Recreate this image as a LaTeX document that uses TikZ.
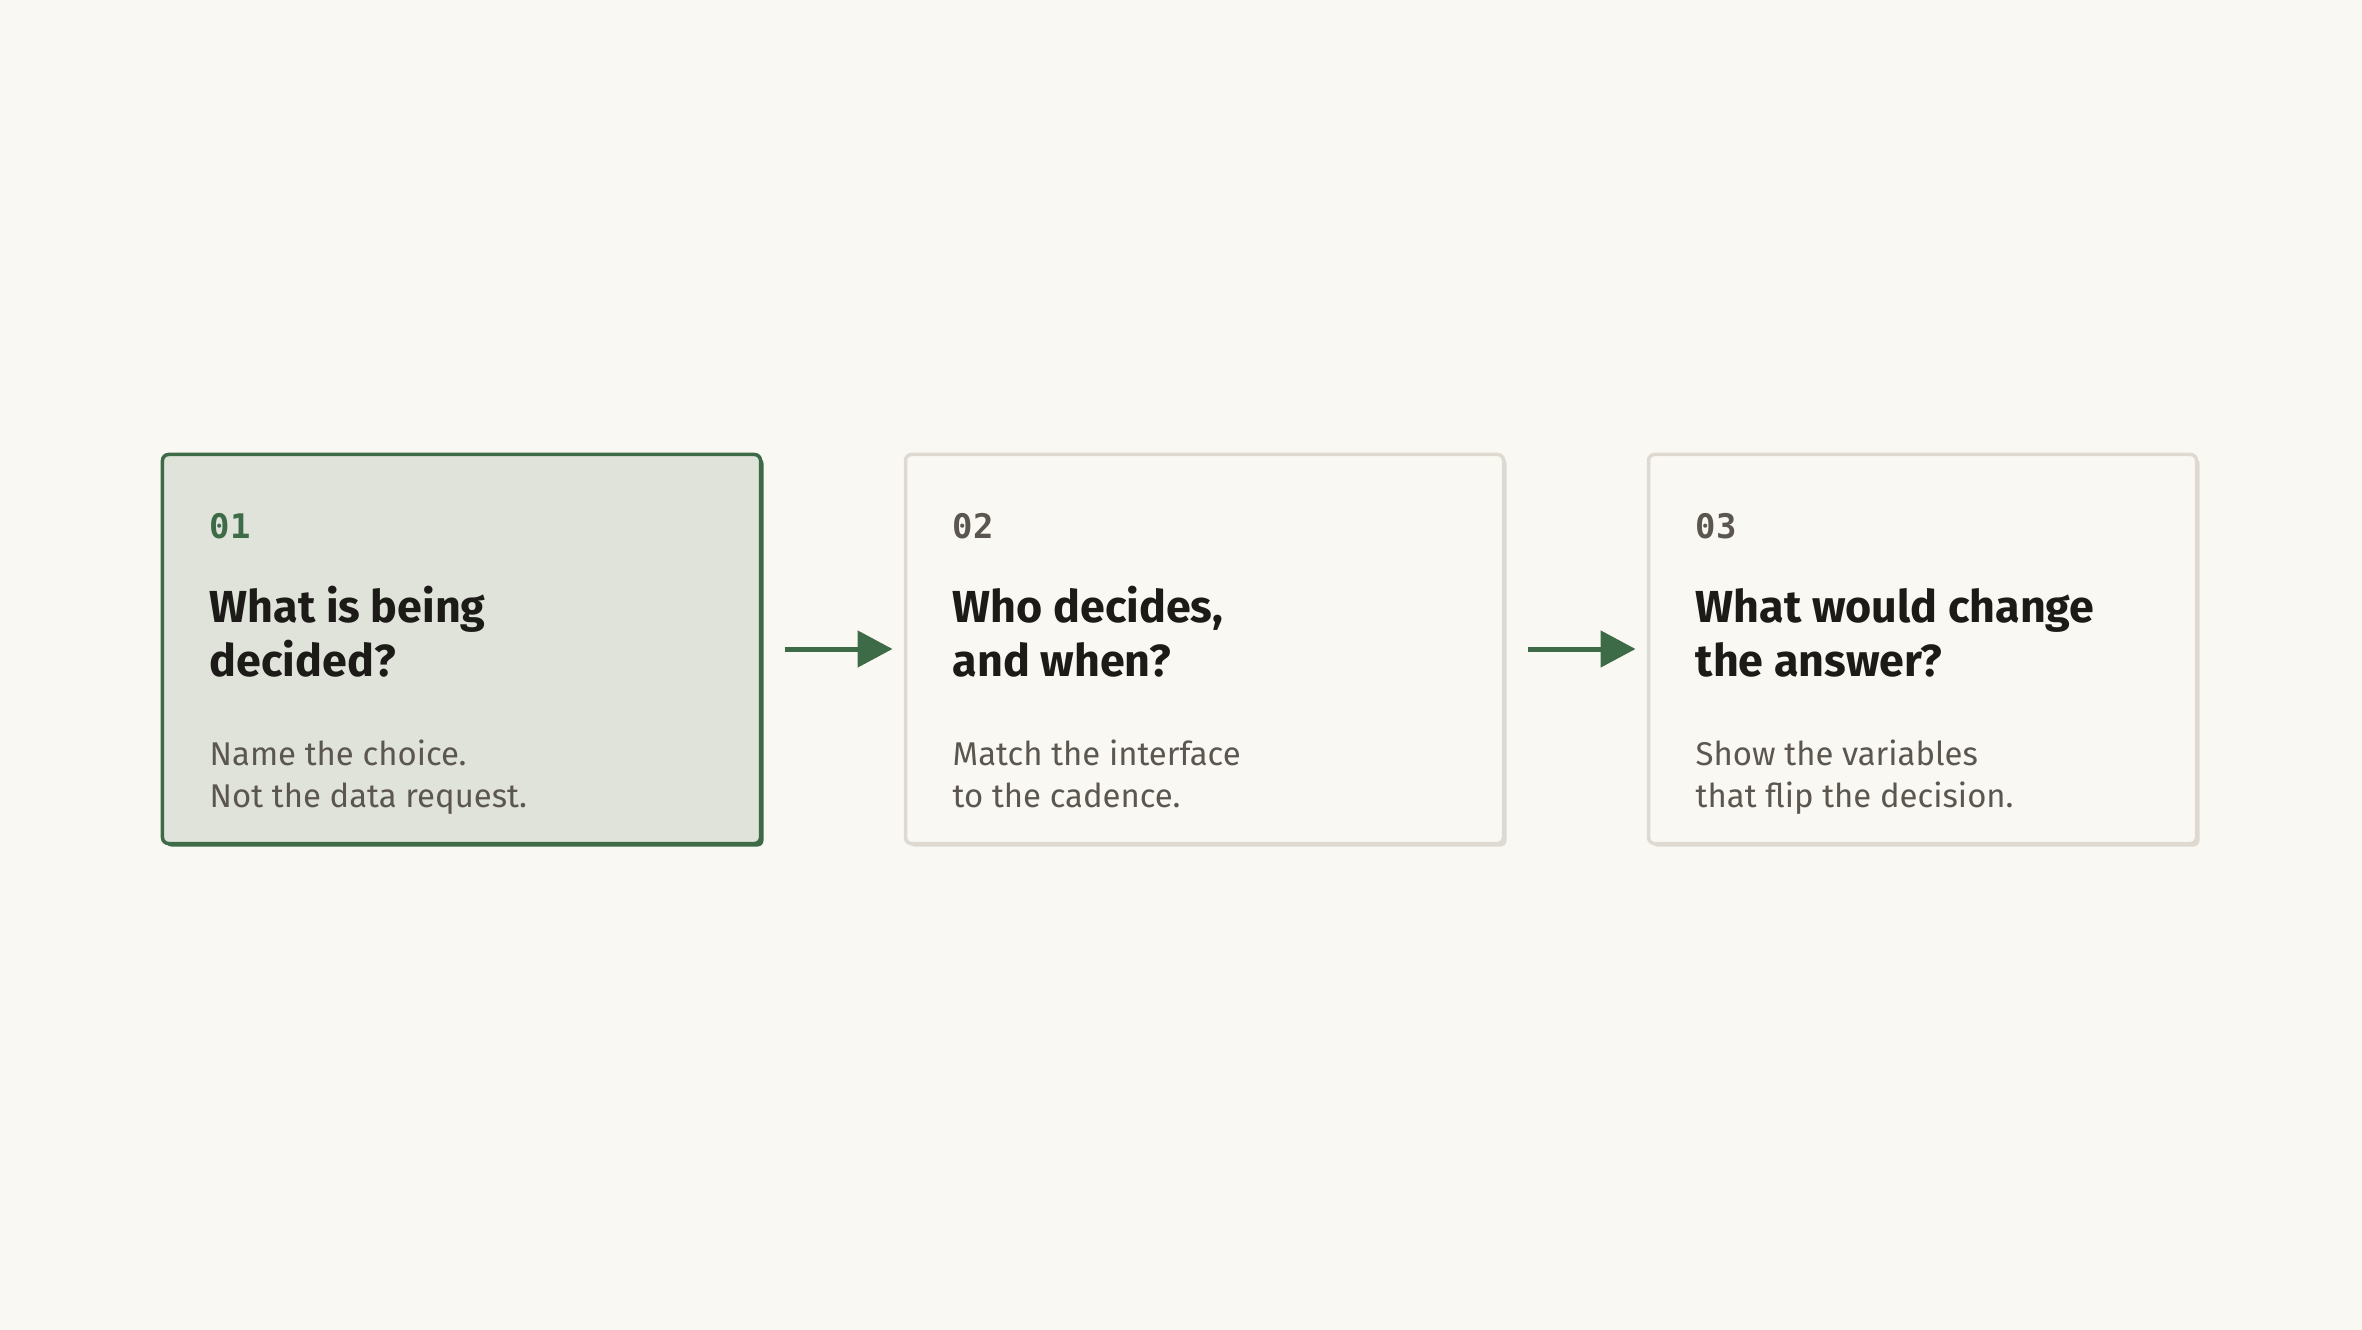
\documentclass[tikz,border=0pt]{standalone}
\usepackage{fontspec}
\setmainfont{Fira Sans}
\newfontfamily\stepmono{DejaVu Sans Mono}
\usepackage{xcolor}
\usetikzlibrary{positioning,shadows,arrows.meta}
\definecolor{paper}{HTML}{FAF8F2}
\definecolor{leaf}{HTML}{3D6B47}
\definecolor{leafpale}{HTML}{E0E3D9}
\definecolor{rim}{HTML}{DEDAD2}
\definecolor{ink}{HTML}{1C1B18}
\definecolor{dim}{HTML}{5B5650}

\tikzset{
	card/.style={draw=#1,fill=paper,line width=3.5bp,rounded corners=6bp,inner sep=0pt,outer sep=0pt,
		minimum width=598bp,minimum height=389bp,
		drop shadow={shadow xshift=3bp,shadow yshift=-3bp,fill=#1,opacity=1}},
	card/.default=rim,
	stepnum/.style={anchor=base west,inner sep=0pt,text=dim,font=\stepmono\bfseries\fontsize{34}{40}\selectfont},
	steptitle/.style={anchor=base west,inner sep=0pt,align=left,text=ink,font=\bfseries\fontsize{45}{54}\selectfont},
	stepnote/.style={anchor=base west,inner sep=0pt,align=left,text=dim,font=\fontsize{33}{42}\selectfont},
	flow/.style={draw=leaf,line width=5bp,-{Triangle[length=35bp,width=36bp]},shorten <=24bp,shorten >=13bp}
}

\begin{document}
\begin{tikzpicture}[x=1bp,y=-1bp]
			\fill[paper] (0,0) rectangle (2362,1330);
			\useasboundingbox (0,0) rectangle (2362,1330);

			\node[card=leaf,fill=leafpale] (b1) at (461.5,649) {};
			\node[card] (b2) [right=145bp of b1] {};
			\node[card,minimum width=548bp] (b3) [right=145bp of b2] {};

			% base of a two-line text is its last line
			\node[stepnum,text=leaf] (n1) at ([shift={(47,84)}]b1.north west) {01};
			\node[steptitle] (t1) at ([shift={(47,221.5)}]b1.north west) {What is being\\decided?};
			\node[stepnote] (s1) at ([shift={(47,353)}]b1.north west) {Name the choice.\\Not the data request.};

			\node[stepnum] (n2) at ([shift={(47,84)}]b2.north west) {02};
			\node[steptitle] (t2) at ([shift={(47,221.5)}]b2.north west) {Who decides,\\and when?};
			\node[stepnote] (s2) at ([shift={(47,353)}]b2.north west) {Match the interface\\to the cadence.};

			\node[stepnum] (n3) at ([shift={(47,84)}]b3.north west) {03};
			\node[steptitle] (t3) at ([shift={(47,221.5)}]b3.north west) {What would change\\the answer?};
			\node[stepnote] (s3) at ([shift={(47,353)}]b3.north west) {Show the variables\\that flip the decision.};

			\draw[flow] (b1) -- (b2);
			\draw[flow] (b2) -- (b3);
\end{tikzpicture}
\end{document}
